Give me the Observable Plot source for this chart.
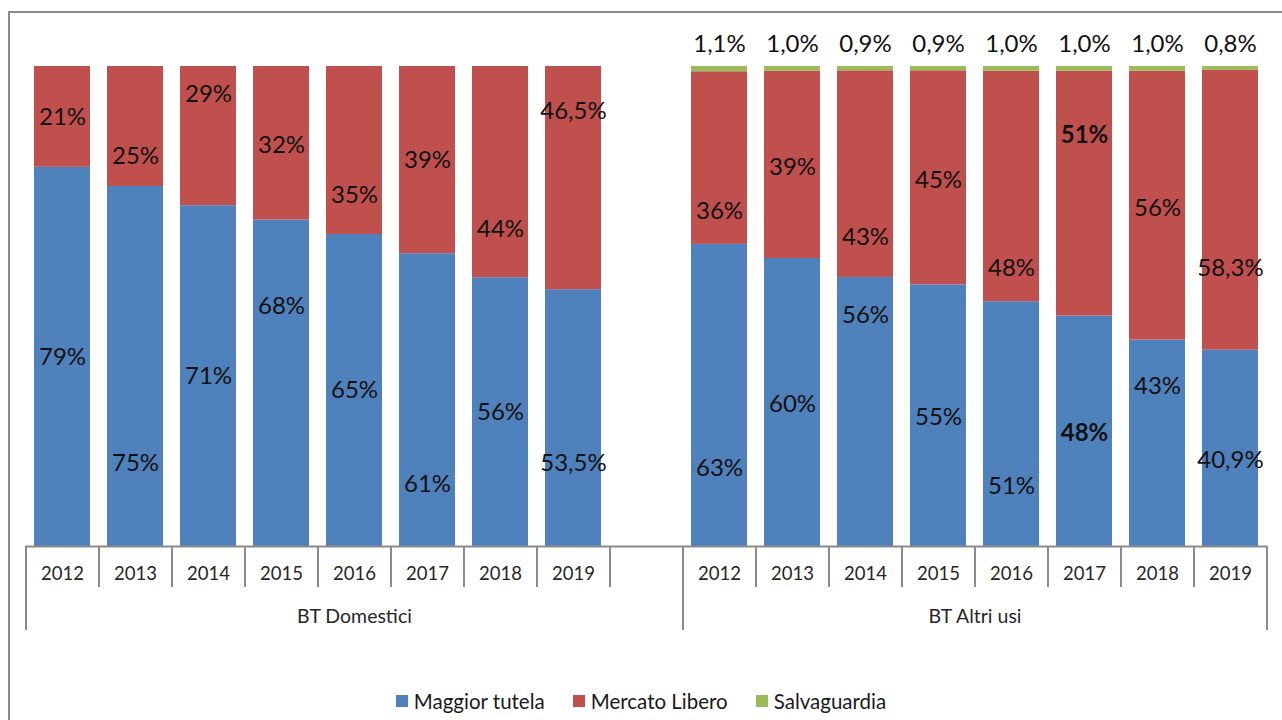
<!DOCTYPE html>
<html><head><meta charset="utf-8">
<script src="https://cdn.jsdelivr.net/npm/d3@7"></script>
<script src="https://cdn.jsdelivr.net/npm/@observablehq/plot@0.6"></script>
<style>
body{margin:0;background:#fff;width:1282px;height:720px;overflow:hidden;position:relative;font-family:Lato,sans-serif}
#frame{position:absolute;left:8px;top:11px;width:1400px;height:800px;border-left:2px solid #8c8c8c;border-top:2px solid #8c8c8c;box-sizing:border-box}
#chart{position:absolute;left:0;top:0}
#legend{position:absolute;left:0;top:683px;width:1282px;display:flex;justify-content:center}
.lg-swatches{font-family:Lato,sans-serif !important;font-size:20.5px !important;color:#1a1a1a !important;margin:0 !important;min-height:36px !important}
.lg-swatch{margin-right:28px !important}
.lg-swatch:last-child{margin-right:0 !important}
.lg-swatch svg{margin-right:6px !important}
</style></head><body>
<div id="frame"></div><div id="chart"></div><div id="legend"></div>
<script>
// ---- data ----
const years = ["2012","2013","2014","2015","2016","2017","2018","2019"];
const groups = ["BT Domestici","BT Altri usi"];
const seriesNames = ["Maggior tutela","Mercato Libero","Salvaguardia"];
const seriesColors = ["#4F81BD","#C0504D","#9BBB59"];

const domMaggior = [79,75,71,68,65,61,56,53.5];
const domLibero  = [21,25,29,32,35,39,44,46.5];
const altMaggior = [63,60,56,55,51,48,43,40.9];
const altLibero  = [36,39,43,45,48,51,56,58.3];
const altSalv    = [1.1,1.0,0.9,0.9,1.0,1.0,1.0,0.8];

// label heights (percent of the bar)
const domMaggiorLabelAt = [39.4,17.3,35.4,50,32.5,12.9,27.9,17.3];
const domLiberoLabelAt  = [89.4,81.3,94.2,83.5,73.1,80.4,66,90.6];
const altMaggiorLabelAt = [16.3,29.6,48.1,26.9,12.5,23.5,33.3,17.9];
const altLiberoLabelAt  = [69.8,79,64.4,76.3,57.9,85.6,70.4,57.9];
const altSalvLabelAt    = [104.6,104.6,104.6,104.6,104.6,104.6,104.6,104.6];
const boldYear = "2017", boldGroup = "BT Altri usi";

// ---- build ----
const W = 1282, H = 680, mL = 25, mR = 15, mT = 66, mB = 134;
const GAP = " ";
const keyOf = (g, y) => g + "|" + y;
const xDomain = [...years.map(y => keyOf(groups[0], y)), GAP, ...years.map(y => keyOf(groups[1], y))];
const step = (W - mL - mR) / xDomain.length;

const rows = [], labels = [];
function add(group, s, values, at) {
  years.forEach((yr, i) => {
    rows.push({x: keyOf(group, yr), series: s, value: values[i]});
    labels.push({x: keyOf(group, yr), series: s, value: values[i], at: at[i] / 100,
      bold: group === boldGroup && yr === boldYear && s !== seriesNames[2]});
  });
}
add(groups[0], seriesNames[0], domMaggior, domMaggiorLabelAt);
add(groups[0], seriesNames[1], domLibero, domLiberoLabelAt);
add(groups[1], seriesNames[0], altMaggior, altMaggiorLabelAt);
add(groups[1], seriesNames[1], altLibero, altLiberoLabelAt);
add(groups[1], seriesNames[2], altSalv, altSalvLabelAt);

const fmt = d => (d.series === seriesNames[2] || !Number.isInteger(d.value))
  ? d.value.toFixed(1).replace(".", ",") + "%" : d.value + "%";

const yearTicks = xDomain.filter(k => k !== GAP).map(k => ({x: k, label: k.split("|")[1]}));
const shortSeps = xDomain.filter((k, i) => i !== 0 && i !== 9);
const longSeps = [xDomain[0], xDomain[9]];
const axisColor = "#8a8a8a";

const chart = Plot.plot({
  width: W, height: H,
  marginLeft: mL, marginRight: mR, marginTop: mT, marginBottom: mB,
  style: {fontFamily: "Lato, sans-serif", background: "transparent", overflow: "visible"},
  x: {type: "band", domain: xDomain, paddingInner: 0.23, paddingOuter: 0.115, axis: null},
  y: {domain: [0, 1], axis: null},
  color: {domain: seriesNames, range: seriesColors},
  marks: [
    Plot.barY(rows, Plot.stackY({x: "x", y: "value", fill: "series", offset: "normalize"})),
    Plot.text(labels.filter(d => !d.bold), {x: "x", y: "at", text: fmt, fontSize: 24, fill: "#111"}),
    Plot.text(labels.filter(d => d.bold), {x: "x", y: "at", text: fmt, fontSize: 24, fill: "#111", fontWeight: "bold"}),
    Plot.ruleY([0], {stroke: axisColor, strokeWidth: 2}),
    Plot.ruleX(shortSeps, {x: d => d, y1: () => 0, y2: () => 0, insetBottom: -41, dx: -step / 2, stroke: axisColor, strokeWidth: 2}),
    Plot.ruleX(longSeps, {x: d => d, y1: () => 0, y2: () => 0, insetBottom: -84, dx: -step / 2, stroke: axisColor, strokeWidth: 2}),
    Plot.ruleX([xDomain[xDomain.length - 1]], {x: d => d, y1: () => 0, y2: () => 0, insetBottom: -84, dx: step / 2, stroke: axisColor, strokeWidth: 2}),
    Plot.text(yearTicks, {x: "x", y: () => 0, text: "label", dy: 28, fontSize: 18.5, fill: "#262626"}),
    Plot.text([groups[0]], {x: () => xDomain[4], y: () => 0, text: d => d, dy: 70, fontSize: 19.5, fill: "#262626"}),
    Plot.text([groups[1]], {x: () => xDomain[13], y: () => 0, text: d => d, dy: 70, dx: -step / 2, fontSize: 19.5, fill: "#262626"})
  ]
});
document.getElementById("chart").appendChild(chart);

const legend = Plot.legend({
  color: {domain: seriesNames, range: seriesColors},
  className: "lg", swatchSize: 12
});
document.getElementById("legend").appendChild(legend);
</script>
</body></html>
